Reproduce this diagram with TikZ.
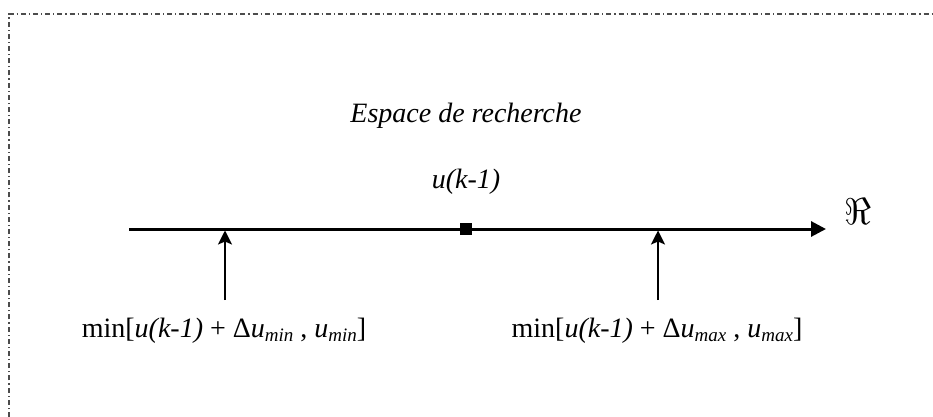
\documentclass[tikz,border=0pt]{standalone}
\usepackage{fontspec}
\usepackage{graphicx}
\setmainfont{Liberation Serif}
\usetikzlibrary{arrows.meta}
\newcommand\mysub[1]{\raisebox{-0.17em}{\fontsize{19}{20}\selectfont\itshape #1}}
\begin{document}
\begin{tikzpicture}[x=1pt,y=-1pt,
  lbl/.style={font=\fontsize{28}{32}\selectfont, inner sep=0pt, anchor=base},
  frame/.style={draw=black!70, line width=1.1pt, dash pattern=on 5pt off 3pt on 1.2pt off 3pt},
  axis/.style={line width=3pt, -{Triangle[length=15pt,width=15pt]}},
  uparrow/.style={line width=1.9pt, -{Stealth[length=14pt,width=14pt,inset=3pt]}},
  marker/.style={fill=black, draw=none, minimum size=12pt, inner sep=0pt, rectangle}]
\useasboundingbox (0,0) rectangle (933,417);
\draw[frame] (9,417) -- (9,14) -- (933,14);
% axis
\coordinate (a0) at (129,229);
\coordinate (a1) at (826,229);
\draw[axis] (a0) -- (a1);
\node[marker] (uk) at (466,229) {};
\node[lbl] (title) at (466,122) {\itshape Espace de recherche};
\node[lbl] (ukl) at (466,188) {\itshape u(k-1)};
\node[font=\fontsize{28}{32}\selectfont, inner sep=0pt] (R) at (858,212) {\scalebox{1.5}{$\Re$}};
% lower bound
\coordinate (b1) at (225,300);
\coordinate (t1) at (225,230.5);
\draw[uparrow] (b1) -- (t1);
\node[lbl] (lmin) at (224,337) {min[\textit{u(k-1)} + Δ\textit{u}\mysub{min} , \textit{u}\mysub{min}]};
% upper bound
\coordinate (b2) at (658,300);
\coordinate (t2) at (658,230.5);
\draw[uparrow] (b2) -- (t2);
\node[lbl] (lmax) at (657,337) {min[\textit{u(k-1)} + Δ\textit{u}\mysub{max} , \textit{u}\mysub{max}]};
\end{tikzpicture}
\end{document}
